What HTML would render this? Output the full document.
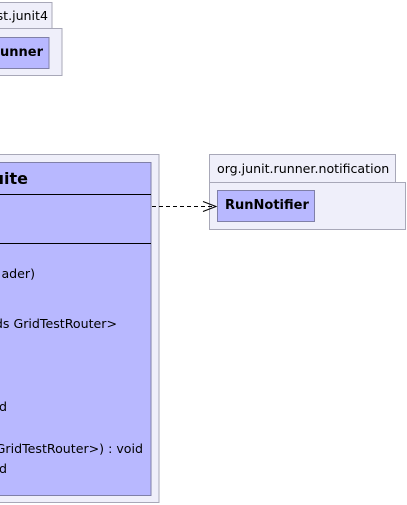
<!DOCTYPE html>
<html><head><meta charset="utf-8"><style>html,body{margin:0;padding:0;background:#fff;}svg{display:block}</style></head>
<body>
<svg width="407" height="505" xmlns="http://www.w3.org/2000/svg" font-family="DejaVu Sans, sans-serif" font-size="12.6">
<!-- top package -->
<rect x="-5" y="2.5" width="57" height="26" fill="#efeffa" stroke="#a8a8b8"/>
<rect x="-5" y="28.5" width="67" height="47" fill="#efeffa" stroke="#a8a8b8"/>
<text x="48" y="20" text-anchor="end" fill="#000">st.junit4</text>
<rect x="-5" y="37.5" width="54" height="31" fill="#b8b8ff" stroke="#8080a8"/>
<text x="43" y="56" text-anchor="end" font-weight="bold" font-size="13">unner</text>
<!-- big package -->
<rect x="-5" y="154.5" width="164" height="348" fill="#efeffa" stroke="#a8a8b8"/>
<rect x="-5" y="162.5" width="156" height="333" fill="#b8b8ff" stroke="#8080a8"/>
<text x="28" y="184" text-anchor="end" font-weight="bold" font-size="16">uite</text>
<line x1="-5" y1="194.5" x2="151" y2="194.5" stroke="#000"/>
<line x1="-5" y1="243.5" x2="151" y2="243.5" stroke="#000"/>
<text x="35" y="278" text-anchor="end">ader)</text>
<text x="117" y="328" text-anchor="end">ds GridTestRouter&gt;</text>
<text x="7" y="411" text-anchor="end">d</text>
<text x="143" y="453" text-anchor="end">GridTestRouter&gt;) : void</text>
<text x="7" y="473" text-anchor="end">d</text>
<!-- right package -->
<rect x="209.5" y="154.5" width="186" height="28" fill="#efeffa" stroke="#a8a8b8"/>
<rect x="209.5" y="182.5" width="196" height="47" fill="#efeffa" stroke="#a8a8b8"/>
<text x="217" y="173">org.junit.runner.notification</text>
<rect x="217.5" y="190.5" width="97" height="31" fill="#b8b8ff" stroke="#8080a8"/>
<text x="225" y="209" font-weight="bold" font-size="13">RunNotifier</text>
<!-- arrow -->
<line x1="152" y1="206.5" x2="216" y2="206.5" stroke="#000" stroke-dasharray="4,3"/>
<polyline points="203,201.5 216,206.5 203,211.5" fill="none" stroke="#000"/>
</svg>
</body></html>
